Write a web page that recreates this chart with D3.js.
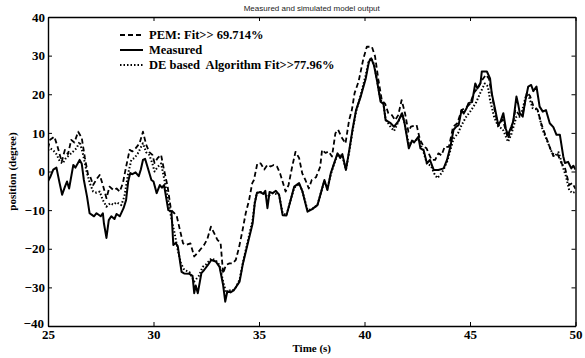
<!DOCTYPE html>
<html>
<head>
<meta charset="utf-8">
<script src="https://cdn.jsdelivr.net/npm/d3@7"></script>
<style>
html,body{margin:0;padding:0;background:#fff;}
svg{display:block;}
</style>
</head>
<body>
<svg id="chart" width="585" height="358"></svg>
<script>
// ---- DATA ----
const xTicks = [25, 30, 35, 40, 45, 50];
const yTicks = [-40, -30, -20, -10, 0, 10, 20, 30, 40];
const legendLabels = ["PEM: Fit>> 69.714%", "Measured", "DE based  Algorithm Fit>>77.96%"];

const measuredT = [25.0,25.1,25.25,25.4,25.55,25.67,25.8,25.9,26.0,26.2,26.3,26.5,26.6,26.7,26.85,26.97,27.1,27.18,27.3,27.5,27.6,27.65,27.77,27.88,28.0,28.15,28.25,28.4,28.58,28.7,28.8,28.9,29.0,29.15,29.3,29.4,29.5,29.6,29.7,29.9,30.0,30.15,30.3,30.4,30.5,30.7,30.85,30.94,31.05,31.15,31.33,31.45,31.7,31.85,31.93,32.0,32.1,32.27,32.4,32.58,32.74,32.95,33.13,33.3,33.4,33.5,33.65,33.8,34.08,34.24,34.47,34.7,34.8,34.9,35.05,35.2,35.3,35.4,35.5,35.65,35.8,35.95,36.12,36.3,36.5,36.67,36.9,37.05,37.3,37.5,37.77,37.93,38.1,38.24,38.4,38.56,38.72,38.85,38.95,39.12,39.28,39.43,39.6,39.82,40.06,40.21,40.32,40.45,40.6,40.76,40.9,41.0,41.24,41.4,41.6,41.78,41.9,42.1,42.25,42.35,42.55,42.65,42.8,42.96,43.1,43.28,43.5,43.75,43.91,44.07,44.22,44.35,44.46,44.6,44.7,44.85,44.93,45.1,45.25,45.35,45.5,45.56,45.8,45.95,46.03,46.2,46.34,46.45,46.58,46.7,46.8,46.95,47.05,47.2,47.28,47.36,47.5,47.6,47.76,47.9,48.0,48.15,48.3,48.45,48.6,48.78,48.95,49.1,49.26,49.42,49.5,49.65,49.8,49.9,50.0];
const measuredV = [-2.5,-1.5,0.5,1.0,-3,-6,-4,-2.6,-4.4,1.7,1.0,3.0,2.0,-2.2,-6.5,-10.8,-11.3,-11.6,-10.8,-11.6,-10.8,-13.4,-17.2,-12.6,-11.6,-12.3,-11,-11.6,-9.5,-7.4,-2.6,-0.4,-0.7,-0.2,-1.2,0.5,3.0,3.3,1.5,-2.2,-2.6,-5.6,-3.5,-4.2,-3.5,-10,-10.3,-19,-18.5,-19.3,-26,-26.4,-26.5,-27,-31.5,-29.5,-31.5,-26.3,-25.5,-24.2,-22.9,-23.3,-24.7,-29.4,-33.7,-31,-31.3,-30.8,-28.5,-23.8,-18.6,-13.4,-8.2,-5.6,-5.3,-5.8,-5.0,-9.5,-5.3,-5.6,-5.0,-6.0,-11.3,-11.4,-7.4,-3.9,-3.0,-5,-10.4,-9.8,-8.7,-5.6,-2.2,-4.8,-0.5,2.1,4.7,3.5,4.5,0.4,5.6,10.8,15.9,19.4,24.1,28.4,29.3,27.5,23.3,18.1,17.5,13.3,12.5,11.6,13,15.1,12.5,6,8,7.5,9,6,5.6,2.1,3,0.4,0.4,0.8,3,6.4,10.8,11.6,12,15.9,15,16.5,17.7,18,22.8,21.5,23,25.9,25.9,24.1,20.3,15.9,12,13,15.1,11,9.5,11.5,13,19.4,17.5,15.1,14.2,17.7,22,22.4,20.8,22,16.8,15.5,15.9,12.5,11.5,9.5,9.5,3.9,2.2,2.5,0.8,1.5,0.5];

const pemT = [25.0,25.1,25.3,25.45,25.65,25.8,25.95,26.1,26.25,26.43,26.6,26.75,26.9,27.0,27.14,27.3,27.45,27.6,27.77,27.92,28.1,28.25,28.4,28.55,28.7,28.87,29.0,29.15,29.34,29.5,29.65,29.8,29.95,30.05,30.2,30.36,30.5,30.67,30.83,30.99,31.1,31.23,31.4,31.55,31.75,31.93,32.1,32.25,32.4,32.55,32.72,32.88,33.03,33.18,33.3,33.43,33.6,33.75,33.9,34.06,34.22,34.37,34.53,34.68,34.76,34.92,35.08,35.25,35.4,35.55,35.7,35.85,36.0,36.26,36.4,36.57,36.73,36.9,37.05,37.2,37.36,37.5,37.7,37.9,37.99,38.15,38.3,38.46,38.62,38.75,38.9,39.1,39.27,39.4,39.53,39.72,39.95,40.11,40.35,40.5,40.66,40.82,40.98,41.13,41.3,41.45,41.6,41.76,41.92,42.08,42.2,42.47,42.63,42.8,42.94,43.18,43.35,43.5,43.65,43.8,44.0,44.2,44.4,44.6,44.8,45.0,45.2,45.4,45.55,45.75,45.9,46.05,46.2,46.35,46.55,46.7,46.8,47.0,47.15,47.35,47.5,47.7,47.85,48.0,48.2,48.4,48.6,48.8,48.95,49.15,49.35,49.5,49.7,49.85,50.0];
const pemV = [6,8.2,9,6.5,2.5,5.6,4.5,8.2,7.5,10.3,8.7,3.5,-0.9,-1.3,-3.5,-2,-0.9,-3.5,-6.9,-3.9,-4.8,-4.4,-5.2,-3,1.2,5.6,5.2,6,7.3,10.3,7,5,4.3,2.2,3.5,4.3,0.4,-3.9,-10,-10.8,-11.5,-14.6,-18.6,-19,-18.6,-22,-21,-20,-19,-17.5,-14.3,-16,-17.7,-18.5,-26.4,-24.2,-23.8,-23.8,-22.9,-19.5,-15.2,-10.8,-7.4,-3,-2.2,2.1,2.1,0.5,1.7,1.3,1.7,1.3,-0.5,-5.2,-3.5,1.2,5.1,3.5,-0.5,-2.2,-4.4,-2.2,-1.5,1.2,5.6,4.8,5.2,3.9,9.9,10.8,9,7.3,13.3,15.9,20.3,23.3,29.3,32.3,32.3,29.8,23.7,18.5,17.5,15.1,14.6,13.3,14.6,18.5,15.1,10.3,11.6,12,8.2,6.5,6,3,3,4.7,4.2,6.4,6.4,11.6,12.5,15.9,16.5,17.5,20.5,21.8,23.5,25,24,19.5,15,11.8,13.5,10.5,8.5,11.5,16,14.5,15,20.5,19.5,17,16,12,9,6,4,4.5,2,1,-3.5,-3,-4.5];

const deT = [25.0,25.1,25.25,25.4,25.57,25.7,25.85,26.1,26.35,26.5,26.65,26.83,26.98,27.14,27.3,27.45,27.6,27.77,27.95,28.1,28.25,28.47,28.62,28.8,28.95,29.1,29.26,29.5,29.65,29.8,29.95,30.05,30.2,30.36,30.5,30.67,30.83,31.0,31.15,31.3,31.46,31.7,31.93,32.15,32.33,32.5,32.74,32.95,33.13,33.3,33.45,33.6,33.75,33.9,34.08,34.24,34.47,34.7,34.8,34.9,35.05,35.2,35.4,35.65,35.95,36.12,36.3,36.5,36.67,36.9,37.05,37.3,37.5,37.77,37.93,38.1,38.24,38.4,38.56,38.72,38.95,39.12,39.28,39.43,39.6,39.82,40.06,40.21,40.32,40.45,40.6,40.76,40.9,41.0,41.24,41.4,41.6,41.78,41.9,42.1,42.25,42.55,42.8,42.96,43.15,43.3,43.45,43.6,43.75,43.91,44.07,44.22,44.43,44.6,44.8,45.06,45.3,45.5,45.7,45.85,45.95,46.15,46.34,46.55,46.8,46.95,47.2,47.4,47.66,47.8,47.97,48.2,48.44,48.65,48.9,49.05,49.2,49.4,49.55,49.7,49.85,50.0];
const deV = [5.5,6,5.5,4.5,2.5,2.1,3.5,4.7,6,7.7,4.7,0,-3,-5.2,-5.5,-5.2,-7.4,-9.1,-8.2,-8.6,-8,-8.7,-6.5,-0.5,3,3.5,4.7,7.3,5,4.3,2,0,1.2,2.1,-1.7,-6.5,-11.7,-16,-20.3,-23.8,-25.5,-26,-28.5,-27,-24.7,-24,-22.5,-23,-24.2,-28.5,-31.5,-30.8,-30.8,-30,-28,-23.5,-18,-12.5,-8,-5.5,-5.3,-5.6,-6.5,-5.6,-6,-10.8,-11.3,-7.4,-4.2,-3.2,-5,-10,-9.8,-8.7,-5.6,-2.5,-4.5,-0.8,2,4.3,4,0.5,5.2,10.4,15.5,19.8,25,28.8,29.3,27.8,23.5,18.5,17.5,13.5,11.5,10.5,12.8,15.1,12.5,7,7.5,8.5,5,2,1.5,-0.5,-1.7,-0.8,0.5,2.5,5.5,8.5,9.9,12,14,15.9,18,20.5,22.8,22,18.5,14,11.6,11,7.7,9.5,14.2,14.2,19.8,19.2,16.4,16,10.8,8,4.7,4.2,5,1.2,-1.3,-4.8,-5.6,-5.2];

// ---- CHART ----
const W = 585, H = 358;
const margin = {left: 48, right: 9.5, top: 17, bottom: 32};
const svg = d3.select("#chart");

const x = d3.scaleLinear().domain([25, 50]).range([margin.left, W - margin.right]);
const y = d3.scaleLinear().domain([-40, 40]).range([H - margin.bottom, margin.top]);

const serif = "'Liberation Serif', 'Times New Roman', serif";

svg.append("defs").append("clipPath").attr("id", "clip")
  .append("rect")
  .attr("x", x(25)).attr("y", y(40))
  .attr("width", x(50) - x(25)).attr("height", y(-40) - y(40));

// series
const zip = (ts, vs) => ts.map((t, i) => ({t: t, v: vs[i]}));
const line = d3.line().x(d => x(d.t)).y(d => y(d.v));

const series = [
  {data: zip(pemT, pemV), dash: "5,3", width: 1.8},
  {data: zip(measuredT, measuredV), dash: null, width: 2},
  {data: zip(deT, deV), dash: "1.5,2", width: 2}
];

const plot = svg.append("g").attr("clip-path", "url(#clip)");
series.forEach(s => {
  plot.append("path")
    .datum(s.data)
    .attr("d", line)
    .attr("fill", "none")
    .attr("stroke", "#000")
    .attr("stroke-width", s.width)
    .attr("stroke-dasharray", s.dash)
    .attr("stroke-linejoin", "round");
});

// axes (MATLAB style: box, inward ticks)
function styleAxis(g) {
  g.select(".domain").attr("stroke", "#000").attr("stroke-width", 1.4);
  g.selectAll(".tick line").attr("stroke", "#000").attr("stroke-width", 1);
  g.selectAll(".tick text")
    .attr("fill", "#000")
    .style("font-family", serif)
    .style("font-weight", "bold")
    .style("font-size", "13px");
}

svg.append("g")
  .attr("transform", `translate(0,${y(-40)})`)
  .call(d3.axisBottom(x).tickValues(xTicks).tickSize(-4).tickSizeOuter(0).tickPadding(4).tickFormat(d3.format("d")))
  .call(styleAxis)
  .attr("font-family", null).attr("font-size", null);

const yAxisG = svg.append("g")
  .attr("transform", `translate(${x(25)},0)`)
  .call(d3.axisLeft(y).tickValues(yTicks).tickSize(-4).tickSizeOuter(0).tickPadding(3).tickFormat(d3.format("d")))
  .call(styleAxis)
  .attr("font-family", null).attr("font-size", null);
// lowest y label sits a little higher, as in the reference, leaving room for "25"
yAxisG.selectAll(".tick").filter(d => d === -40).select("text").attr("dy", "0.1em").attr("x", -4);

svg.append("g")
  .attr("transform", `translate(0,${y(40)})`)
  .call(d3.axisTop(x).tickValues(xTicks).tickSize(-4).tickSizeOuter(0).tickFormat(""))
  .call(styleAxis);

svg.append("g")
  .attr("transform", `translate(${x(50)},0)`)
  .call(d3.axisRight(y).tickValues(yTicks).tickSize(-4).tickSizeOuter(0).tickFormat(""))
  .call(styleAxis);

// title
svg.append("text")
  .attr("x", (x(25) + x(50)) / 2).attr("y", 11)
  .attr("text-anchor", "middle")
  .style("font-family", "'Liberation Sans', Arial, sans-serif")
  .style("font-size", "8px")
  .attr("fill", "#222")
  .text("Measured and simulated model output");

// axis titles
svg.append("text")
  .attr("x", (x(25) + x(50)) / 2).attr("y", 352)
  .attr("text-anchor", "middle")
  .style("font-family", serif).style("font-weight", "bold").style("font-size", "11px")
  .text("Time (s)");

svg.append("text")
  .attr("transform", `translate(16,${(y(40) + y(-40)) / 2}) rotate(-90)`)
  .attr("text-anchor", "middle")
  .style("font-family", serif).style("font-weight", "bold").style("font-size", "11px")
  .text("position (degree)");

// legend
const legendY = [35, 50, 65];
const leg = svg.append("g");
series.forEach((s, i) => {
  leg.append("line")
    .attr("x1", 120).attr("x2", 143)
    .attr("y1", legendY[i]).attr("y2", legendY[i])
    .attr("stroke", "#000")
    .attr("stroke-width", s.width)
    .attr("stroke-dasharray", s.dash);
  leg.append("text")
    .attr("x", 149).attr("y", legendY[i])
    .attr("dy", "0.35em")
    .style("white-space", "pre")
    .style("font-family", serif).style("font-weight", "bold").style("font-size", "12.5px")
    .text(legendLabels[i]);
});
</script>
</body>
</html>
